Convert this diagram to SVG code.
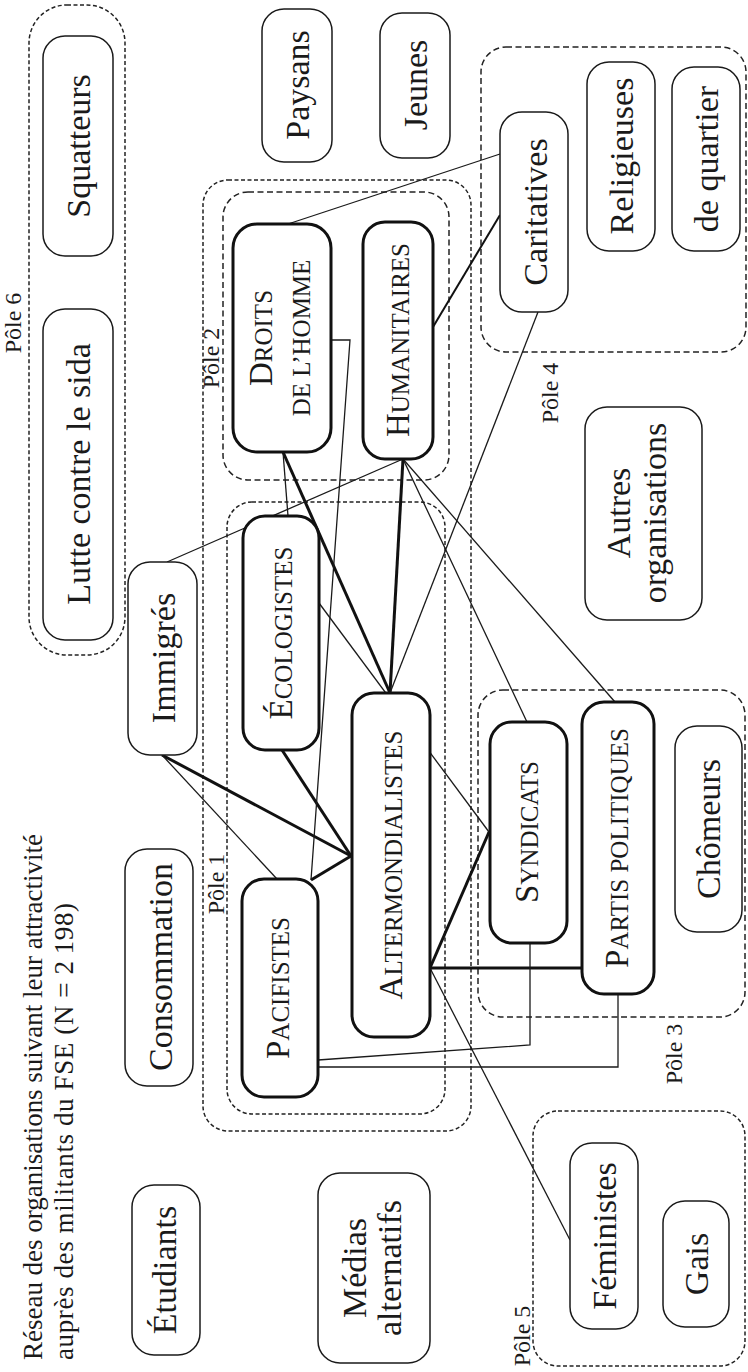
<svg xmlns="http://www.w3.org/2000/svg" width="748" height="1372" viewBox="0 0 748 1372" font-family="'Liberation Serif', 'DejaVu Serif', serif">
<style>
  text { font-family: "Liberation Serif", "DejaVu Serif", serif; fill: #1a1a1a; }
  .lbl { font-size: 34px; }
  .sc1 { font-size: 33px; }
  .sc2 { font-size: 25px; }
  .pole { font-size: 24px; }
  .title { font-size: 27px; }
  .node { fill: #fff; stroke: #1a1a1a; stroke-width: 1.5; }
  .thick { fill: #fff; stroke: #111; stroke-width: 3; }
  .grp { fill: none; stroke: #222; stroke-width: 1.5; stroke-dasharray: 6 3.5; }
  .grp2 { fill: none; stroke: #222; stroke-width: 1.5; stroke-dasharray: 4 2.5; }
  .thin { fill: none; stroke: #1a1a1a; stroke-width: 1.3; }
  .heavy { fill: none; stroke: #111; stroke-width: 3; }
  .mid { fill: none; stroke: #111; stroke-width: 2; }
</style>

<g id="title">
  <text class="title" transform="translate(42,1360) rotate(-90)" textLength="526" lengthAdjust="spacing">Réseau des organisations suivant leur attractivité</text>
  <text class="title" transform="translate(73,1360) rotate(-90)" textLength="457" lengthAdjust="spacing">auprès des militants du FSE (N = 2&#8201;198)</text>
</g>

<g id="groups">
  <rect id="pole6" class="grp2" x="29" y="5" width="96" height="650" rx="38"/>
  <rect id="pole12" class="grp2" x="203" y="180" width="268" height="951" rx="25"/>
  <rect id="pole2" class="grp" x="223" y="192" width="226" height="288" rx="25"/>
  <rect id="pole1" class="grp2" x="227" y="502" width="218" height="612" rx="25"/>
  <rect id="pole4" class="grp" x="481" y="47" width="265" height="305" rx="25"/>
  <rect id="pole3" class="grp" x="478" y="690" width="267" height="327" rx="25"/>
  <rect id="pole5" class="grp2" x="533" y="1111" width="212" height="255" rx="25"/>
  <text class="pole" transform="translate(21,323) rotate(-90)" text-anchor="middle">Pôle 6</text>
  <text class="pole" transform="translate(219,358) rotate(-90)" text-anchor="middle">Pôle 2</text>
  <text class="pole" transform="translate(224,884) rotate(-90)" text-anchor="middle">Pôle 1</text>
  <text class="pole" transform="translate(558,393) rotate(-90)" text-anchor="middle">Pôle 4</text>
  <text class="pole" transform="translate(682,1054) rotate(-90)" text-anchor="middle">Pôle 3</text>
  <text class="pole" transform="translate(530,1336) rotate(-90)" text-anchor="middle">Pôle 5</text>
</g>

<g id="connectors">
  <line class="heavy" x1="162" y1="755" x2="351" y2="856"/>
  <line class="heavy" x1="282" y1="750" x2="351" y2="856"/>
  <line class="heavy" x1="311" y1="880" x2="351" y2="856"/>
  <line class="heavy" x1="283" y1="452" x2="390" y2="693"/>
  <line class="heavy" x1="403" y1="459" x2="390" y2="693"/>
  <line class="heavy" x1="430" y1="968" x2="489" y2="832"/>
  <line class="heavy" x1="430" y1="968" x2="582" y2="968"/>
  <line class="mid" x1="433" y1="327" x2="500" y2="215"/>
  <line class="thin" x1="162" y1="755" x2="277" y2="879"/>
  <polyline class="thin" points="331,340 350,340 311,880"/>
  <line class="thin" x1="288" y1="224" x2="500" y2="154"/>
  <line class="thin" x1="283" y1="452" x2="288" y2="516"/>
  <line class="thin" x1="403" y1="459" x2="167" y2="562"/>
  <line class="thin" x1="403" y1="459" x2="527" y2="722"/>
  <line class="thin" x1="403" y1="459" x2="615" y2="702"/>
  <line class="thin" x1="538" y1="312" x2="390" y2="693"/>
  <line class="thin" x1="319" y1="603" x2="489" y2="832"/>
  <line class="thin" x1="430" y1="968" x2="570" y2="1240"/>
  <polyline class="thin" points="530,943 530,1045 318,1060"/>
  <polyline class="thin" points="618,994 618,1067 318,1067"/>
</g>

<g id="squatteurs"><rect class="node" x="43" y="36" width="70" height="220" rx="22"/>
  <text class="lbl" transform="translate(90,146) rotate(-90)" text-anchor="middle">Squatteurs</text></g>
<g id="lutte"><rect class="node" x="43" y="309" width="70" height="331" rx="22"/>
  <text class="lbl" transform="translate(90,474) rotate(-90)" text-anchor="middle">Lutte contre le sida</text></g>
<g id="paysans"><rect class="node" x="262" y="9" width="70" height="153" rx="22"/>
  <text class="lbl" transform="translate(309,85) rotate(-90)" text-anchor="middle">Paysans</text></g>
<g id="jeunes"><rect class="node" x="380" y="13" width="70" height="145" rx="22"/>
  <text class="lbl" transform="translate(427,85) rotate(-90)" text-anchor="middle">Jeunes</text></g>
<g id="droits"><rect class="thick" x="233" y="224" width="98" height="228" rx="24"/>
  <text transform="translate(272,338) rotate(-90)" text-anchor="middle"><tspan class="sc1">D</tspan><tspan class="sc2">ROITS</tspan></text>
  <text class="sc2" transform="translate(310,338) rotate(-90)" text-anchor="middle">DE L’HOMME</text></g>
<g id="humanitaires"><rect class="thick" x="363" y="222" width="70" height="237" rx="22"/>
  <text transform="translate(409,340) rotate(-90)" text-anchor="middle"><tspan class="sc1">H</tspan><tspan class="sc2">UMANITAIRES</tspan></text></g>
<g id="caritatives"><rect class="node" x="500" y="112" width="68" height="200" rx="22"/>
  <text class="lbl" transform="translate(547,212) rotate(-90)" text-anchor="middle">Caritatives</text></g>
<g id="religieuses"><rect class="node" x="587" y="62" width="68" height="189" rx="22"/>
  <text class="lbl" transform="translate(633,156) rotate(-90)" text-anchor="middle">Religieuses</text></g>
<g id="quartier"><rect class="node" x="672" y="67" width="68" height="184" rx="22"/>
  <text class="lbl" transform="translate(718,159) rotate(-90)" text-anchor="middle">de quartier</text></g>
<g id="autres"><rect class="node" x="585" y="407" width="117" height="213" rx="22"/>
  <text class="lbl" transform="translate(630,513) rotate(-90)" text-anchor="middle">Autres</text>
  <text class="lbl" transform="translate(666,513) rotate(-90)" text-anchor="middle">organisations</text></g>
<g id="immigres"><rect class="node" x="128" y="562" width="69" height="193" rx="22"/>
  <text class="lbl" transform="translate(175,658) rotate(-90)" text-anchor="middle">Immigrés</text></g>
<g id="ecologistes"><rect class="thick" x="243" y="516" width="76" height="234" rx="22"/>
  <text transform="translate(292,633) rotate(-90)" text-anchor="middle"><tspan class="sc1">É</tspan><tspan class="sc2">COLOGISTES</tspan></text></g>
<g id="consommation"><rect class="node" x="125" y="849" width="68" height="237" rx="22"/>
  <text class="lbl" transform="translate(172,967) rotate(-90)" text-anchor="middle">Consommation</text></g>
<g id="pacifistes"><rect class="thick" x="242" y="879" width="76" height="218" rx="22"/>
  <text transform="translate(289,988) rotate(-90)" text-anchor="middle"><tspan class="sc1">P</tspan><tspan class="sc2">ACIFISTES</tspan></text></g>
<g id="altermondialistes"><rect class="thick" x="352" y="693" width="78" height="344" rx="22"/>
  <text transform="translate(402,865) rotate(-90)" text-anchor="middle"><tspan class="sc1">A</tspan><tspan class="sc2">LTERMONDIALISTES</tspan></text></g>
<g id="syndicats"><rect class="thick" x="490" y="722" width="77" height="221" rx="22"/>
  <text transform="translate(538,832) rotate(-90)" text-anchor="middle"><tspan class="sc1">S</tspan><tspan class="sc2">YNDICATS</tspan></text></g>
<g id="partis"><rect class="thick" x="582" y="702" width="72" height="292" rx="22"/>
  <text transform="translate(628,848) rotate(-90)" text-anchor="middle"><tspan class="sc1">P</tspan><tspan class="sc2">ARTIS POLITIQUES</tspan></text></g>
<g id="chomeurs"><rect class="node" x="675" y="726" width="67" height="206" rx="22"/>
  <text class="lbl" transform="translate(720,829) rotate(-90)" text-anchor="middle">Chômeurs</text></g>
<g id="etudiants"><rect class="node" x="132" y="1185" width="68" height="170" rx="22"/>
  <text class="lbl" transform="translate(176,1270) rotate(-90)" text-anchor="middle">Étudiants</text></g>
<g id="medias"><rect class="node" x="318" y="1173" width="112" height="190" rx="22"/>
  <text class="lbl" transform="translate(366,1268) rotate(-90)" text-anchor="middle">Médias</text>
  <text class="lbl" transform="translate(401,1268) rotate(-90)" text-anchor="middle">alternatifs</text></g>
<g id="feministes"><rect class="node" x="570" y="1143" width="68" height="186" rx="22"/>
  <text class="lbl" transform="translate(616,1236) rotate(-90)" text-anchor="middle">Féministes</text></g>
<g id="gais"><rect class="node" x="663" y="1201" width="66" height="126" rx="22"/>
  <text class="lbl" transform="translate(708,1264) rotate(-90)" text-anchor="middle">Gais</text></g>
</svg>
